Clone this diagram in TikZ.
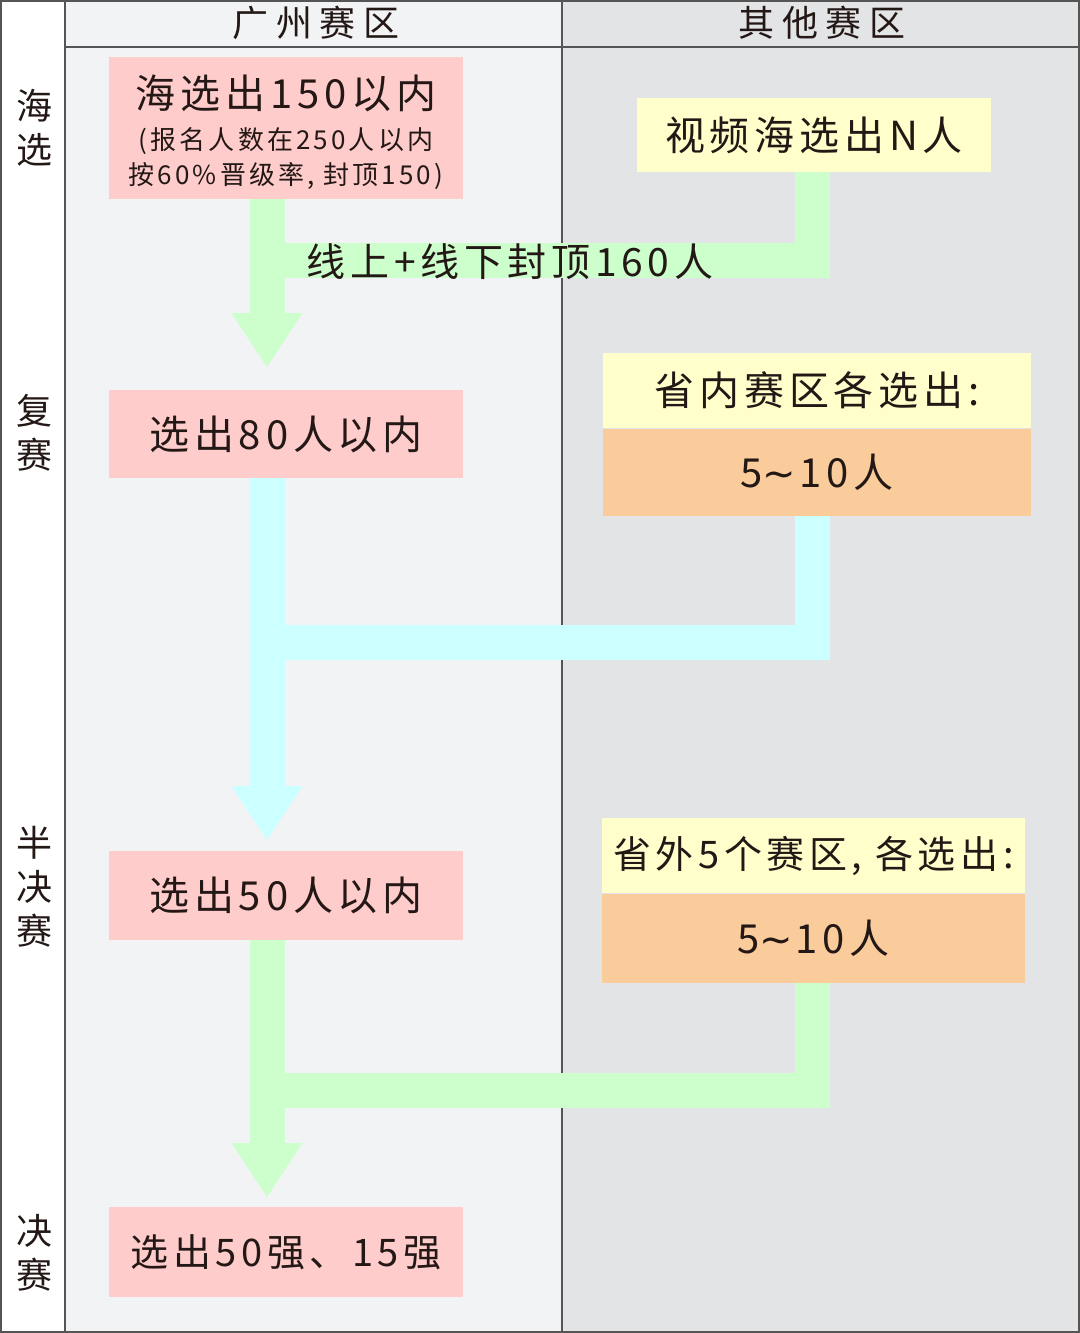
\documentclass[tikz,border=0pt]{standalone}
\usepackage{fontspec}
\usepackage{xcolor}
\usepackage{tikz}
\usetikzlibrary{arrows.meta,positioning,calc}
\newfontfamily\cjk[LetterSpace=12]{Noto Sans CJK SC}
\newfontfamily\sym{DejaVu Sans}
\definecolor{cLine}{HTML}{555555}
\definecolor{cText}{HTML}{231815}
\definecolor{cPanelL}{HTML}{F2F3F5}
\definecolor{cPanelR}{HTML}{E3E4E6}
\definecolor{cPink}{HTML}{FFCCCC}
\definecolor{cYel}{HTML}{FFFFCC}
\definecolor{cOra}{HTML}{FACB9B}
\definecolor{cGrn}{HTML}{CCFFCC}
\definecolor{cCya}{HTML}{CCFFFF}
\newcommand{\tld}{{\sym\string~}\kern1.5pt}
\tikzset{
  box/.style   = {rectangle, inner sep=0pt, align=center, text=cText,
                  font=\cjk\fontsize{20}{22}\selectfont},
  pinkb/.style = {box, fill=cPink, minimum width=177pt},
  yelb/.style  = {box, fill=cYel},
  orab/.style  = {box, fill=cOra},
  phase/.style = {align=center, text=cText, inner sep=0pt,
                  font=\cjk\fontsize{18}{22}\selectfont},
  head/.style  = {phase, font=\cjk\fontsize{18}{22}\selectfont\addfontfeature{LetterSpace=22}},
  frame/.style = {draw=cLine, line width=1pt},
  pipe/.style  = {line width=17.5pt,
                  -{Triangle[width=35.5pt 0, length=27pt 0, line width=0pt]}},
  feed/.style  = {line width=17.5pt},
  lab/.style   = {text=cText, inner sep=0pt, font=\cjk\fontsize{19.5}{22}\selectfont},
}

\begin{document}
\begin{tikzpicture}[x=0.5pt, y=-0.5pt]
  \useasboundingbox (0,0) rectangle (1080,1333);
  % ---- PANELS ----
  \fill[white]   (0,0) rectangle (1080,1333);
  \fill[cPanelL] (65,0) rectangle (562,1333);
  \fill[cPanelR] (562,0) rectangle (1079,1333);
  \draw[frame] (1,1) rectangle (1079,1332);
  \draw[frame] (65,1) -- (65,1332);
  \draw[frame] (562,1) -- (562,1332);
  \draw[frame] (65,47) -- (1079,47);
  \node[head] (hgz) at (316,23) {广州赛区};
  \node[head] (hqt) at (822,23) {其他赛区};

  % ---- PHASES ----
  \node[phase] (ph1) at (35,128)  {海\\选};
  \node[phase] (ph2) at (35,433)  {复\\赛};
  \node[phase] (ph3) at (35,887)  {半\\决\\赛};
  \node[phase] (ph4) at (35,1253) {决\\赛};

  % ---- GUANGZHOU ----
  \node[pinkb, minimum height=71pt] (hx1) at (286,128) {};
  \node[box, font=\cjk\fontsize{13}{17.5}\selectfont] (hx1t) at ([yshift=-2pt]hx1.center)
    {{\fontsize{20}{22}\selectfont 海选出150以内}\\[3pt](报名人数在250人以内\\按60\%晋级率, 封顶150)};
  \node[pinkb, minimum height=44pt]   (fs)  at (286,434)    {选出80人以内};
  \node[pinkb, minimum height=44.5pt] (bj)  at (286,895.5)  {选出50人以内};
  \node[pinkb, minimum height=45pt, font=\cjk\fontsize{19}{22}\selectfont] (js) at (286,1252) {选出50强、15强};

  % ---- OTHER REGIONS ----
  \node[yelb, minimum width=177pt, minimum height=37pt] (sp) at (814,135) {视频海选出N人};
  \node[yelb, minimum width=214pt, minimum height=37.5pt] (sn1) at (817,390.5) {省内赛区各选出:};
  \node[orab, minimum width=214pt, minimum height=43.5pt, below=0pt of sn1] (sn2) {5\tld10人};
  \node[yelb, minimum width=211.5pt, minimum height=37.5pt, font=\cjk\fontsize{19}{22}\selectfont] (sw1) at (813.5,855.5) {省外5个赛区, 各选出:};
  \node[orab, minimum width=211.5pt, minimum height=44.5pt, below=0pt of sw1] (sw2) {5\tld10人};

  % ---- FLOW ----
  \coordinate (g1)  at (267,367);
  \coordinate (g1j) at (267,260);
  \coordinate (c1)  at (267,840);
  \coordinate (c1j) at (267,642);
  \coordinate (g2)  at (267,1197);
  \coordinate (g2j) at (267,1090);
  \draw[pipe, cGrn] (hx1.south -| g1) -- (g1);
  \draw[feed, cGrn] ([xshift=-1pt]sp.south) |- (g1j);
  \draw[pipe, cCya] (fs.south -| c1) -- (c1);
  \draw[feed, cCya] ([xshift=-2.5pt]sn2.south) |- (c1j);
  \draw[pipe, cGrn] (bj.south -| g2) -- (g2);
  \draw[feed, cGrn] ([xshift=-0.75pt]sw2.south) |- (g2j);
  \node[lab] (cap) at (510,262) {线上+线下封顶160人};
\end{tikzpicture}
\end{document}
